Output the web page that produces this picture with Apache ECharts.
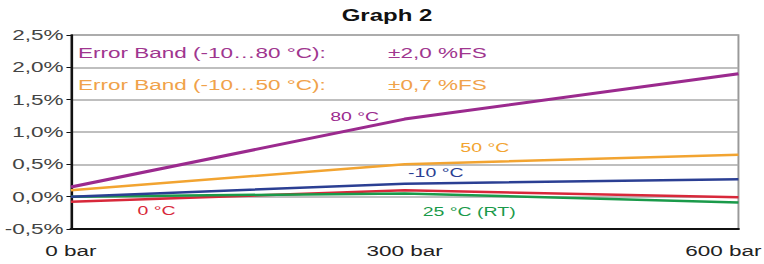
<!DOCTYPE html>
<html>
<head>
<meta charset="utf-8">
<script src="https://cdn.jsdelivr.net/npm/echarts@6/dist/echarts.min.js"></script>
<style>
  html, body { margin: 0; padding: 0; background: #fff; overflow: hidden; }
  /* the source picture is stretched sideways, so draw narrow and stretch */
  #chart { width: 509px; height: 264px; transform: scaleX(1.5); transform-origin: 0 0; }
</style>
</head>
<body>
<div id="chart"></div>
<script>
// pressure in bar, deviation in %FS
const pressures = [0, 300, 600];
const xTicks = { 0: '0 bar', 300: '300 bar', 600: '600 bar' };

const t80 = [0.15, 1.2, 1.9];
const t50 = [0.1, 0.5, 0.65];
const tMinus10 = [0.0, 0.2, 0.27];
const t0 = [-0.08, 0.1, -0.01];
const t25 = [0.0, 0.05, -0.09];

const bandLines = [
  { label: 'Error Band (-10…80 °C):', value: '±2,0 %FS', color: '#a0368f' },
  { label: 'Error Band (-10…50 °C):', value: '±0,7 %FS', color: '#f0a24a' }
];

const FONT = '"Liberation Sans", Arial, sans-serif';

function pairs(vals) {
  return pressures.map((p, i) => [p, vals[i]]);
}

function mkSeries(name, vals, color, width, tag, at) {
  return {
    name: name,
    type: 'line',
    data: pairs(vals),
    symbol: 'none',
    lineStyle: { color: color, width: width },
    z: 3,
    markPoint: {
      symbol: 'circle',
      symbolSize: 0,
      silent: true,
      label: {
        show: true,
        formatter: tag,
        color: color,
        fontFamily: FONT,
        fontSize: 13
      },
      data: [{ coord: at }]
    }
  };
}

const chart = echarts.init(document.getElementById('chart'), null, { renderer: 'svg' });

chart.setOption({
  animation: false,
  title: {
    text: 'Graph 2',
    left: 253,
    textAlign: 'center',
    top: 3,
    textStyle: { fontFamily: FONT, fontSize: 16, fontWeight: 'bold', color: '#111' }
  },
  grid: {
    left: 47.3, right: 16.7, top: 35, bottom: 35,
    outerBoundsMode: 'none',
    show: true, borderColor: '#999', borderWidth: 1.3
  },
  xAxis: {
    type: 'value',
    min: 0, max: 600, interval: 300,
    axisLine: { show: true, onZero: false, lineStyle: { color: '#111', width: 2 } },
    axisTick: { show: false },
    splitLine: { show: false },
    axisLabel: {
      // last label nudged left so it stays inside the page
      formatter: v => (v === 600 ? '{r|' + xTicks[v] + '}' : xTicks[v]),
      rich: { r: { fontFamily: FONT, fontSize: 15, color: '#222', padding: [0, 20, 0, 0] } },
      fontFamily: FONT, fontSize: 15, color: '#222', margin: 14
    }
  },
  yAxis: {
    type: 'value',
    min: -0.5, max: 2.5, interval: 0.5,
    axisLine: { show: true, onZero: false, lineStyle: { color: '#111', width: 1.5 } },
    axisTick: { show: true, length: 3, lineStyle: { color: '#111' } },
    splitLine: { show: true, lineStyle: { color: '#aaa', width: 1.5 } },
    axisLabel: {
      formatter: v => v.toFixed(1).replace('.', ',') + '%',
      fontFamily: FONT, fontSize: 15, color: '#444', margin: 5
    }
  },
  graphic: bandLines.flatMap((b, i) => [
    {
      type: 'text', left: 52, top: 45 + i * 32,
      style: { text: b.label, fill: b.color, font: '15px ' + FONT }
    },
    {
      type: 'text', left: 258.7, top: 45 + i * 32,
      style: { text: b.value, fill: b.color, font: '15px ' + FONT }
    }
  ]),
  series: [
    mkSeries('0 °C', t0, '#d8283a', 2.5, '0 °C', [77, -0.22]),
    mkSeries('25 °C (RT)', t25, '#1a9a4a', 2.5, '25 °C (RT)', [358, -0.23]),
    mkSeries('-10 °C', tMinus10, '#2b3f93', 2.5, '-10 °C', [328, 0.37]),
    mkSeries('50 °C', t50, '#f2a431', 2.5, '50 °C', [372, 0.75]),
    mkSeries('80 °C', t80, '#9b2a8e', 3, '80 °C', [255, 1.23])
  ]
});
</script>
</body>
</html>
